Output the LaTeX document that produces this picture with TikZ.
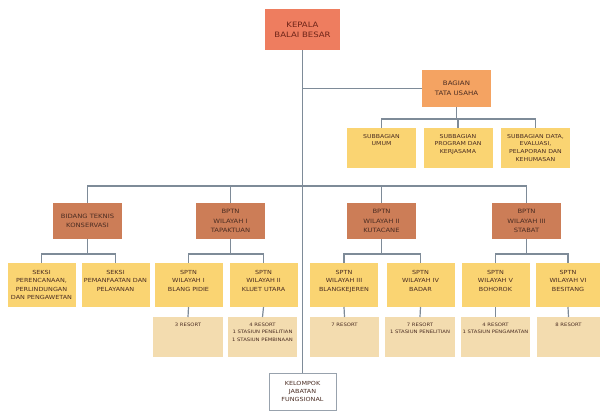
\documentclass[tikz,border=0pt]{standalone}
\usepackage{fontspec}
\newfontfamily\orgfont[FakeStretch=1.15]{DejaVu Sans}
\definecolor{cTop}{HTML}{EE7D5F}
\definecolor{cBag}{HTML}{F4A362}
\definecolor{cBid}{HTML}{CC7D57}
\definecolor{cYel}{HTML}{FAD472}
\definecolor{cRes}{HTML}{F3DCAF}
\definecolor{cLine}{HTML}{7E8B98}
\definecolor{cTxt}{HTML}{4A2C22}
\definecolor{cTopTxt}{HTML}{6E2418}
\newcommand{\orgbx}[6]{\parbox[c][#2pt][t]{#1pt}{\centering\orgfont\fontsize{#4}{#5}\selectfont\vspace*{#3pt}#6\par}}
\tikzset{
  orgbase/.style={inner sep=0pt, outer sep=0pt, text=cTxt},
  topbox/.style={orgbase, fill=cTop, minimum width=75pt, minimum height=41pt, align=center, text=cTopTxt,
     font=\orgfont\fontsize{7.4}{10}\selectfont},
  bagbox/.style={orgbase, fill=cBag, minimum width=69pt, minimum height=37pt, align=center,
     font=\orgfont\fontsize{6.1}{10}\selectfont},
  bidbox/.style={orgbase, fill=cBid, minimum width=69pt, minimum height=36pt, align=center,
     font=\orgfont\fontsize{5.9}{9.5}\selectfont},
  yelbox/.style={orgbase, fill=cYel},
  resbox/.style={orgbase, fill=cRes},
  kelbox/.style={orgbase, fill=white, draw=cLine!80, line width=0.8pt, minimum width=67pt, minimum height=37pt,
     align=center, font=\orgfont\fontsize{5.6}{7.7}\selectfont},
  conn/.style={draw=cLine, line width=1.2pt}
}
\begin{document}
\begin{tikzpicture}[x=1pt,y=-1pt]
\useasboundingbox (0,0) rectangle (600,413);
% top
\node[topbox] (top) at (302.5,29.5) {KEPALA\\BALAI BESAR};
\node[kelbox] (kel) at (302.5,391.5) {KELOMPOK\\JABATAN\\FUNGSIONAL};
\node[bagbox] (bag) at (456.5,88.5) {BAGIAN\\TATA USAHA};
% subbagian
\node[yelbox] (sb1) at (381.5,148) {\orgbx{69}{40}{6}{5.4}{7.7}{SUBBAGIAN\\UMUM}};
\node[yelbox] (sb2) at (458,148) {\orgbx{69}{40}{6}{5.4}{7.7}{SUBBAGIAN\\PROGRAM DAN\\KERJASAMA}};
\node[yelbox] (sb3) at (535.5,148) {\orgbx{69}{40}{6}{5.4}{7.7}{SUBBAGIAN DATA,\\EVALUASI,\\PELAPORAN DAN\\KEHUMASAN}};
% level 2
\node[bidbox] (bd1) at (87.5,221) {BIDANG TEKNIS\\KONSERVASI};
\node[bidbox] (bd2) at (230.5,221) {BPTN\\WILAYAH I\\TAPAKTUAN};
\node[bidbox] (bd3) at (381.5,221) {BPTN\\WILAYAH II\\KUTACANE};
\node[bidbox] (bd4) at (526.5,221) {BPTN\\WILAYAH III\\STABAT};
% level 3
\node[yelbox] (c1) at (41.5,285) {\orgbx{68}{44}{7}{5.6}{8.5}{SEKSI\\PERENCANAAN,\\PERLINDUNGAN\\DAN PENGAWETAN}};
\node[yelbox] (c2) at (115.5,285) {\orgbx{68}{44}{7}{5.6}{8.5}{SEKSI\\PEMANFAATAN DAN\\PELAYANAN}};
\node[yelbox] (c3) at (188.5,285) {\orgbx{68}{44}{7}{5.6}{8.5}{SPTN\\WILAYAH I\\BLANG PIDIE}};
\node[yelbox] (c4) at (263.5,285) {\orgbx{68}{44}{7}{5.6}{8.5}{SPTN\\WILAYAH II\\KLUET UTARA}};
\node[yelbox] (c5) at (344,285) {\orgbx{68}{44}{7}{5.6}{8.5}{SPTN\\WILAYAH III\\BLANGKEJEREN}};
\node[yelbox] (c6) at (420.5,285) {\orgbx{68}{44}{7}{5.6}{8.5}{SPTN\\WILAYAH IV\\BADAR}};
\node[yelbox] (c7) at (495.5,285) {\orgbx{68}{44}{7}{5.6}{8.5}{SPTN\\WILAYAH V\\BOHOROK}};
\node[yelbox] (c8) at (568,285) {\orgbx{64}{44}{7}{5.6}{8.5}{SPTN\\WILAYAH VI\\BESITANG}};
% resorts
\node[resbox] (r3) at (188,337) {\orgbx{70}{40}{6}{4.6}{7.3}{3 RESORT}};
\node[resbox] (r4) at (262.5,337) {\orgbx{69}{40}{6}{4.6}{7.3}{4 RESORT\\1 STASIUN PENELITIAN\\1 STASIUN PEMBINAAN}};
\node[resbox] (r5) at (344.5,337) {\orgbx{69}{40}{6}{4.6}{7.3}{7 RESORT}};
\node[resbox] (r6) at (420,337) {\orgbx{70}{40}{6}{4.6}{7.3}{7 RESORT\\1 STASIUN PENELITIAN}};
\node[resbox] (r7) at (495.5,337) {\orgbx{69}{40}{6}{4.6}{7.3}{4 RESORT\\1 STASIUN PENGAMATAN}};
\node[resbox] (r8) at (568.5,337) {\orgbx{63}{40}{6}{4.6}{7.3}{8 RESORT}};
% bus coordinates
\coordinate (yTU) at (0,119);
\coordinate (yL2) at (0,186);
\coordinate (yL3) at (0,254);
% connectors
\draw[conn] (top.south) -- (kel.north);
\draw[conn] (bag.west) -- (bag.west -| top.south);
\draw[conn] (bag.south) -- (bag.south |- yTU);
\draw[conn] (sb1.north) -- (sb1.north |- yTU) -- (sb3.north |- yTU) -- (sb3.north);
\draw[conn] (sb2.north) -- (sb2.north |- yTU);
\draw[conn] (bd1.north) -- (bd1.north |- yL2) -- (bd4.north |- yL2) -- (bd4.north);
\draw[conn] (bd2.north) -- (bd2.north |- yL2);
\draw[conn] (bd3.north) -- (bd3.north |- yL2);
\foreach \p/\a/\b in {bd1/c1/c2, bd2/c3/c4, bd3/c5/c6, bd4/c7/c8}{
  \draw[conn] (\p.south) -- (\p.south |- yL3);
  \draw[conn] (\a.north) -- (\a.north |- yL3) -- (\b.north |- yL3) -- (\b.north);
}
\foreach \c/\r in {c3/r3, c4/r4, c5/r5, c6/r6, c7/r7, c8/r8}{
  \draw[conn] (\c.south) -- (\r.north);
}
\end{tikzpicture}
\end{document}
